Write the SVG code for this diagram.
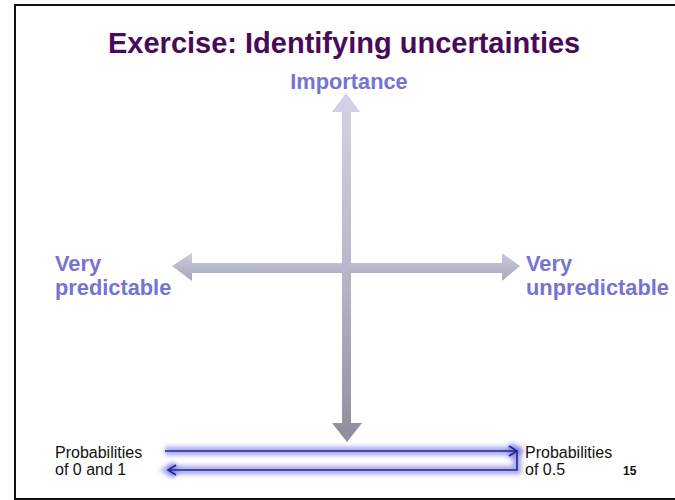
<svg xmlns="http://www.w3.org/2000/svg" width="675" height="500" viewBox="0 0 675 500">
<style>
.title{font-family:"Liberation Sans",Arial,sans-serif;font-weight:bold;font-size:29px;fill:#4a0a5a}
.axis{font-family:"Liberation Sans",Arial,sans-serif;font-weight:bold;font-size:21.8px;fill:#7474d4}
.small{font-family:"Liberation Sans",Arial,sans-serif;font-size:16px;fill:#111}
.num{font-family:"Liberation Sans",Arial,sans-serif;font-weight:bold;font-size:12px;fill:#111}
.glow{fill:none;stroke:#6a6ae0;stroke-width:9;stroke-opacity:0.55;filter:url(#blur)}
.line{fill:none;stroke:#24248a;stroke-width:1.6}
</style>
<defs>
<linearGradient id="vgrad" x1="0" y1="0" x2="0" y2="1">
<stop offset="0" stop-color="#d2d2e8"/>
<stop offset="0.5" stop-color="#b8b8cc"/>
<stop offset="1" stop-color="#8e8e9a"/>
</linearGradient>
<linearGradient id="hgrad" x1="0" y1="0" x2="0" y2="1">
<stop offset="0" stop-color="#cacadc"/>
<stop offset="0.5" stop-color="#babacd"/>
<stop offset="1" stop-color="#a6a6b8"/>
</linearGradient>
<filter id="blur" x="-10%" y="-100%" width="120%" height="300%">
<feGaussianBlur stdDeviation="2"/>
</filter>
</defs>
<rect x="15" y="5" width="675" height="494" fill="#fff" stroke="#111" stroke-width="2"/>
<g id="title"><text class="title" x="108" y="53">Exercise: Identifying uncertainties</text></g>
<g id="connectors">
<g id="horizontal-axis">
<polygon fill="url(#hgrad)" points="172,266 192,253 192,263 502,263 502,253 520,266 502,281 502,273 192,273 192,281"/>
</g>
<g id="vertical-axis">
<polygon fill="url(#vgrad)" points="346,93 360,112 351,112 351,423 362,423 347,442 332,423 342,423 342,112 332,112"/>
</g>
<g id="probability-loop">
<path class="glow" d="M165,451 H517 V470 H168"/>
<path class="glow" d="M509,446 L517,451 L509,456 M176,465 L168,470 L176,475"/>
<path class="line" d="M165,451 H517 V470 H168"/>
<path class="line" d="M509,446 L517,451 L509,456 M176,465 L168,470 L176,475"/>
</g>
</g>
<g id="importance"><text class="axis" x="349" y="89" text-anchor="middle">Importance</text></g>
<g id="very-predictable"><text class="axis" x="55" y="271">Very</text><text class="axis" x="55" y="295">predictable</text></g>
<g id="very-unpredictable"><text class="axis" x="526" y="271">Very</text><text class="axis" x="526" y="295">unpredictable</text></g>
<g id="prob-0-1"><text class="small" x="55" y="458">Probabilities</text><text class="small" x="55" y="475">of 0 and 1</text></g>
<g id="prob-05"><text class="small" x="525" y="458">Probabilities</text><text class="small" x="525" y="475">of 0.5</text></g>
<g id="page-number"><text class="num" x="623" y="475">15</text></g>
</svg>
